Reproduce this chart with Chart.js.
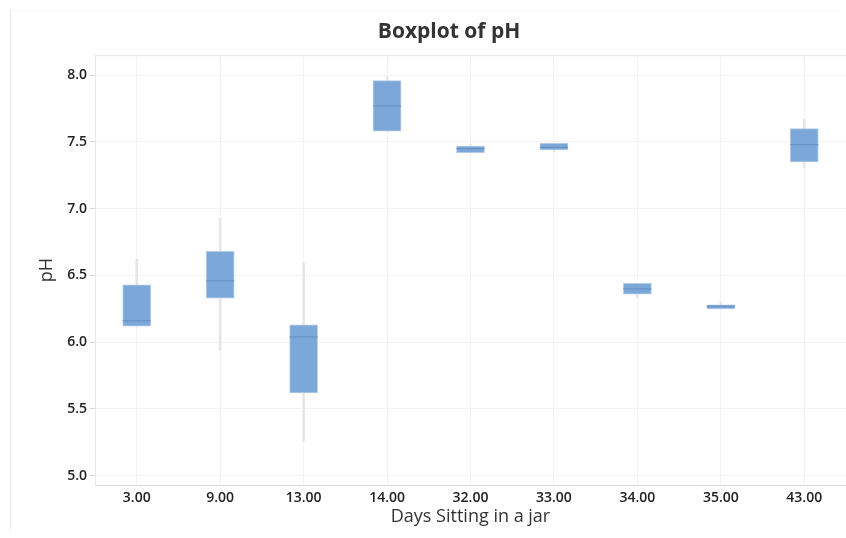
<!DOCTYPE html>
<html>
<head>
<meta charset="utf-8">
<script src="https://cdn.jsdelivr.net/npm/chart.js@4"></script>
<style>
  html, body { margin: 0; padding: 0; background: #ffffff; overflow: hidden; }
  #wrap { position: relative; width: 846px; height: 538px; overflow: hidden; }
  #frame { position: absolute; left: 10px; top: 10px; width: 830px; height: 520px; border-left: 1px solid #ececec; border-top: 1px solid #f6f6f6; }
  canvas { position: absolute; left: 0; top: 0; }
</style>
</head>
<body>
<div id="wrap">
  <div id="frame"></div>
  <canvas id="c" width="846" height="538"></canvas>
</div>
<script>
// ---- data ----
const categories   = ['3.00', '9.00', '13.00', '14.00', '32.00', '33.00', '34.00', '35.00', '43.00'];
const whiskerLow   = [6.12, 5.94, 5.26, 7.58, 7.42, 7.43, 6.33, 6.25, 7.31];
const q1           = [6.12, 6.33, 5.62, 7.58, 7.42, 7.44, 6.36, 6.25, 7.35];
const medians      = [6.16, 6.46, 6.04, 7.77, 7.45, 7.46, 6.40, 6.27, 7.48];
const q3           = [6.43, 6.68, 6.13, 7.96, 7.47, 7.49, 6.44, 6.28, 7.60];
const whiskerHigh  = [6.62, 6.93, 6.59, 7.99, 7.48, 7.49, 6.44, 6.30, 7.67];
const yTickValues  = [5.0, 5.5, 6.0, 6.5, 7.0, 7.5, 8.0];

const boxRanges = categories.map((c, i) => [q1[i], q3[i]]);
const whiskerRanges = categories.map((c, i) => [whiskerLow[i], whiskerHigh[i]]);

const FONT = "'Open Sans', 'Noto Sans', sans-serif";

const framePlugin = {
  id: 'framePlugin',
  afterLayout(chart) {
    // shift the title block so it is centred like the reference
    if (chart.titleBlock) { chart.titleBlock.left = 52; chart.titleBlock.right = 846; }
  },
  beforeDatasetsDraw(chart) {
    const a = chart.chartArea, ctx = chart.ctx;
    ctx.save();
    ctx.strokeStyle = '#e6e6e6';
    ctx.lineWidth = 1;
    ctx.beginPath();
    ctx.moveTo(a.left + 0.5, a.bottom);
    ctx.lineTo(a.left + 0.5, a.top + 0.5);
    ctx.lineTo(a.right, a.top + 0.5);
    ctx.stroke();
    ctx.restore();
  }
};

new Chart(document.getElementById('c'), {
  data: {
    labels: categories,
    datasets: [
      {
        type: 'bar',
        label: 'Whisker',
        data: whiskerRanges,
        backgroundColor: '#e6e6e6',
        borderWidth: 0,
        barThickness: 2,
        grouped: false,
        order: 3
      },
      {
        type: 'bar',
        label: 'Box',
        data: boxRanges,
        backgroundColor: '#7ca7d9',
        borderColor: '#b3cbea',
        borderWidth: 1,
        borderSkipped: false,
        barThickness: 28,
        grouped: false,
        order: 2
      },
      {
        type: 'line',
        label: 'Median',
        data: medians,
        showLine: false,
        pointStyle: 'line',
        pointRadius: 14,
        pointHoverRadius: 14,
        pointBorderColor: '#6a92c5',
        pointBorderWidth: 1.2,
        order: 1
      }
    ]
  },
  options: {
    responsive: false,
    animation: false,
    layout: { autoPadding: false, padding: { left: 30, right: 0, top: 0, bottom: 0 } },
    plugins: {
      legend: { display: false },
      tooltip: { enabled: false },
      title: {
        display: true,
        text: 'Boxplot of pH',
        color: '#333333',
        font: { family: FONT, size: 21, weight: 'bold', lineHeight: 1.2 },
        padding: { top: 19, bottom: 11 }
      }
    },
    scales: {
      x: {
        type: 'category',
        offset: true,
        grid: { offset: false, color: '#f3f3f3', drawTicks: false },
        border: { color: '#d9d9d9', width: 1 },
        ticks: { color: '#222222', padding: 5, font: { family: FONT, size: 14, weight: '600' } },
        title: {
          display: true,
          text: 'Days Sitting in a jar',
          color: '#333333',
          font: { family: FONT, size: 18, lineHeight: 1.2 },
          padding: { top: 0, bottom: 10 }
        },
        afterFit(scale) { scale.height = 53; scale.paddingRight = 0; scale.paddingLeft = 0; }
      },
      y: {
        type: 'linear',
        min: 4.93,
        max: 8.15,
        grid: { color: '#f3f3f3', tickColor: '#d6d6d6', tickLength: 5 },
        border: { color: '#e6e6e6', width: 1 },
        afterBuildTicks(scale) { scale.ticks = yTickValues.map(v => ({ value: v })); },
        ticks: {
          color: '#222222',
          padding: 3,
          font: { family: FONT, size: 14, weight: '600' },
          callback: (v) => Number(v).toFixed(1)
        },
        title: {
          display: true,
          text: 'pH',
          color: '#333333',
          font: { family: FONT, size: 18, lineHeight: 1.2 },
          padding: { top: 6, bottom: 0 }
        },
        afterFit(scale) { scale.width = 65; scale.paddingTop = 0; scale.paddingBottom = 0; }
      }
    }
  },
  plugins: [framePlugin]
});
</script>
</body>
</html>
